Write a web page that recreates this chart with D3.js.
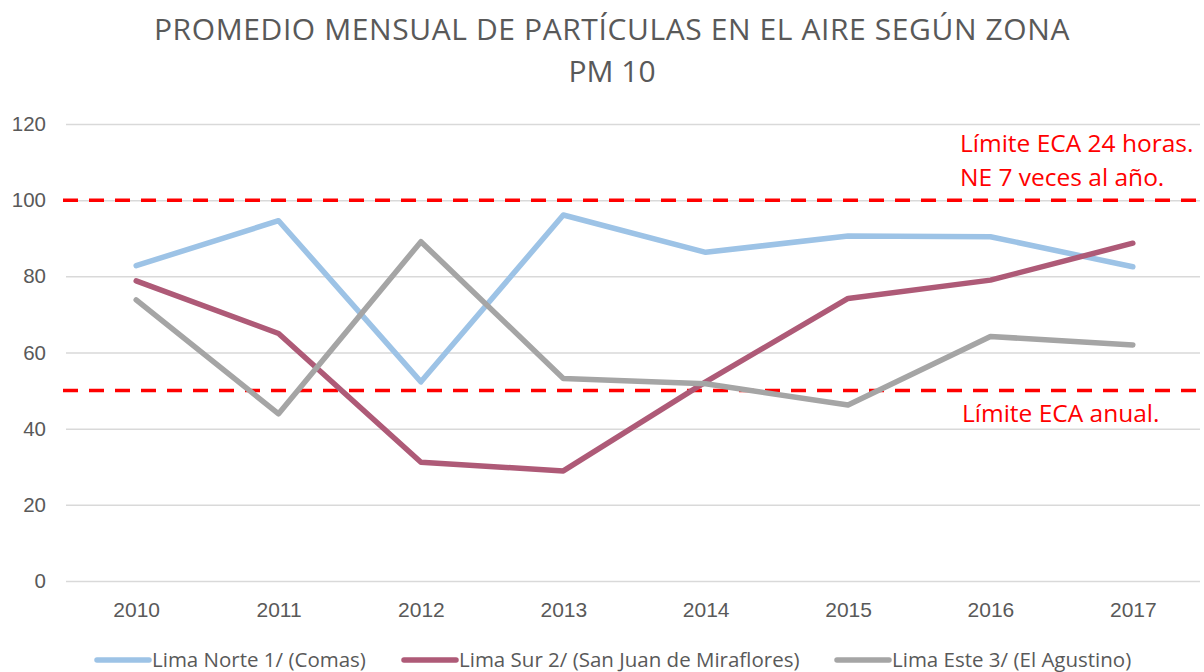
<!DOCTYPE html>
<html>
<head>
<meta charset="utf-8">
<script src="https://cdn.jsdelivr.net/npm/d3@7"></script>
<style>
  body { margin: 0; background: #fff; }
  svg { font-family: "Open Sans", Lato, sans-serif; }
</style>
</head>
<body>
<svg id="chart"></svg>
<script>
// datos
const years = ["2010", "2011", "2012", "2013", "2014", "2015", "2016", "2017"]
const limaNorte = [82.8, 94.6, 52.3, 96.1, 86.3, 90.6, 90.4, 82.5]
const limaSur = [78.8, 65.0, 31.2, 28.9, 52.3, 74.2, 79.0, 88.7]
const limaEste = [73.8, 43.9, 89.1, 53.2, 51.8, 46.2, 64.2, 62.0]
const seriesNames = ["Lima Norte 1/ (Comas)", "Lima Sur 2/ (San Juan de Miraflores)", "Lima Este 3/ (El Agustino)"]
const seriesColors = ["#9DC3E6", "#AE5A77", "#A5A5A5"]
const yTicks = [0, 20, 40, 60, 80, 100, 120]
const limits = [100, 50]

const width = 1204, height = 672
const svg = d3.select("#chart").attr("width", width).attr("height", height)

let x = d3.scalePoint().domain(years).range([65, 1204]).padding(0.5)
let y = d3.scaleLinear().domain([0, 120]).range([581, 124])

// titulo
const title = svg.append("g")
    .attr("fill", "#595959")
    .attr("text-anchor", "middle")
    .style("font-size", "30px")
title.append("text")
    .attr("x", 612).attr("y", 40)
    .style("letter-spacing", "0.6px")
    .text("PROMEDIO MENSUAL DE PARTÍCULAS EN EL AIRE SEGÚN ZONA")
title.append("text")
    .attr("x", 612).attr("y", 82)
    .text("PM 10")

// grilla + eje y
const yAxis = svg.append("g")
    .attr("transform", "translate(66,0)")
    .call(d3.axisLeft(y).tickValues(yTicks).tickSize(-1134).tickPadding(20))
yAxis.select(".domain").remove()
yAxis.selectAll(".tick line").attr("stroke", "#d9d9d9").attr("stroke-width", 1.5)
yAxis.selectAll(".tick text").attr("fill", "#595959").style("font-size", "20.5px")
    .attr("font-family", null)

// eje x
const xAxis = svg.append("g")
    .attr("transform", "translate(0,581)")
    .call(d3.axisBottom(x).tickSize(0).tickPadding(21))
xAxis.select(".domain").remove()
xAxis.selectAll(".tick text").attr("fill", "#595959").style("font-size", "21px")
    .attr("font-family", null)

// lineas limite
svg.selectAll(".limit")
    .data(limits)
    .join("line")
    .attr("class", "limit")
    .attr("x1", 63).attr("x2", 1204)
    .attr("y1", d => y(d)).attr("y2", d => y(d))
    .attr("stroke", "#FF0000")
    .attr("stroke-width", 3.5)
    .attr("stroke-dasharray", "15,11")

const red = svg.append("g").attr("fill", "#FF0000").style("font-size", "24.5px")
red.append("text").attr("x", 960).attr("y", y(100) - 48).text("Límite ECA 24 horas.")
red.append("text").attr("x", 960).attr("y", y(100) - 14).text("NE 7 veces al año.")
red.append("text").attr("x", 962).attr("y", y(50) + 31).text("Límite ECA anual.")

// series
const allSeries = [limaNorte, limaSur, limaEste]
const line = d3.line().x((d, i) => x(years[i])).y(d => y(d))

svg.selectAll(".serie")
    .data(allSeries)
    .join("path")
    .attr("class", "serie")
    .attr("d", d => line(d))
    .attr("fill", "none")
    .attr("stroke", (d, i) => seriesColors[i])
    .attr("stroke-width", 5.5)
    .attr("stroke-linecap", "round")
    .attr("stroke-linejoin", "round")

// leyenda
const legendX = [97, 404, 837]
const legend = svg.selectAll(".legend")
    .data(seriesNames)
    .join("g")
    .attr("class", "legend")
    .attr("transform", (d, i) => `translate(${legendX[i]},660)`)
legend.append("line")
    .attr("x1", 0).attr("x2", 52)
    .attr("stroke", (d, i) => seriesColors[i])
    .attr("stroke-width", 5.5)
    .attr("stroke-linecap", "round")
legend.append("text")
    .attr("x", 55).attr("y", 7)
    .attr("fill", "#595959")
    .style("font-size", "20.5px")
    .text(d => d)
</script>
</body>
</html>
